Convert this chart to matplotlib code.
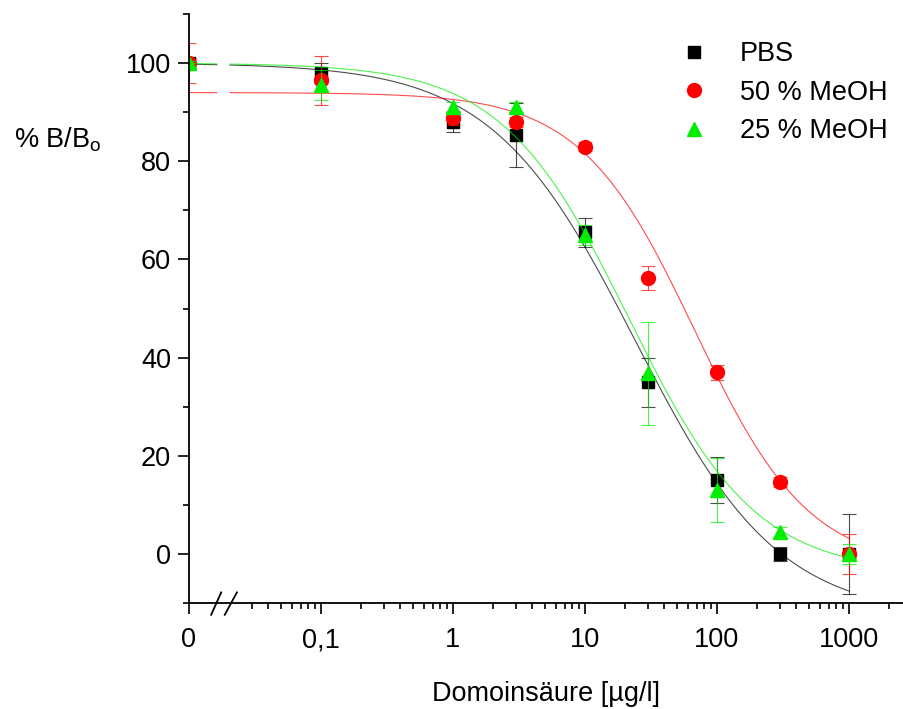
import numpy as np
import matplotlib
matplotlib.use("Agg")
import matplotlib.pyplot as plt
from matplotlib.ticker import FixedLocator, NullFormatter

plt.rcParams["font.family"] = ["Liberation Sans", "DejaVu Sans"]
plt.rcParams["mathtext.fontset"] = "custom"
plt.rcParams["mathtext.rm"] = "Liberation Sans"

# concentration 0 is drawn at the position of 0.01 on the log axis
conc = [0, 0.1, 1, 3, 10, 30, 100, 300, 1000]
zero_pos = 0.01

pbs = [100, 98, 88, 85.3, 65.5, 35, 15, 0, 0]
pbs_err = [1, 2, 2, 6.5, 3, 5, 4.7, 1.5, 8.2]
meoh50 = [100, 96.5, 88.8, 88, 83, 56.2, 37, 14.6, 0]
meoh50_err = [4, 5, 1.5, 1, 1, 2.5, 1.5, 1, 4]
meoh25 = [100, 95.5, 91, 91, 65, 36.8, 13, 4.5, 0]
meoh25_err = [0.5, 3, 1, 1, 2, 10.5, 6.5, 1, 2]

# logistic fit parameters (A1, A2, x0, p)
fit_pbs = (100, -13, 24, 0.8)
fit_50 = (94, -3, 68, 1.0)
fit_25 = (100, -4, 21.5, 0.9)

xticks = [0.01, 0.1, 1, 10, 100, 1000]
xticklabels = ["0", "0,1", "1", "10", "100", "1000"]


def logistic(x, a1, a2, x0, p):
    return a2 + (a1 - a2) / (1 + (x / x0) ** p)


fig = plt.figure(figsize=(9.04, 7.09), dpi=100)
ax = fig.add_axes([189 / 904, 106 / 709, 715 / 904, 589 / 709])

xs = np.logspace(-2, 3, 500)
gap = (xs > 0.0166) & (xs < 0.0204)
xpos = [zero_pos if c == 0 else c for c in conc]

series = [
    (pbs, pbs_err, fit_pbs, "black", "s", 8, "PBS"),
    (meoh50, meoh50_err, fit_50, "#ff0000", "o", 10, "50 % MeOH"),
    (meoh25, meoh25_err, fit_25, "#00ee00", "^", 10, "25 % MeOH"),
]
for vals, errs, fit, color, marker, ms, label in series:
    ys = logistic(xs, *fit)
    ys = np.where(gap, np.nan, ys)
    ax.plot(xs, ys, color=color, lw=0.8, alpha=0.7)
    ax.errorbar(xpos, vals, yerr=errs, fmt="none", ecolor=color, elinewidth=0.8,
                capsize=5, capthick=0.8, alpha=0.7)
    ax.plot(xpos, vals, linestyle="none", marker=marker, ms=ms, color=color,
            mec=color, label=label)

ax.set_xscale("log")
ax.set_xlim(0.01, 10 ** 3.417)
ax.set_ylim(-10, 110)

ax.xaxis.set_major_locator(FixedLocator(xticks))
ax.set_xticklabels(xticklabels)
minor = [m * 10.0 ** e for e in range(-2, 4) for m in range(2, 10)]
minor = [v for v in minor if v >= 0.03]
ax.xaxis.set_minor_locator(FixedLocator(minor))
ax.xaxis.set_minor_formatter(NullFormatter())

ax.set_yticks([0, 20, 40, 60, 80, 100])
ax.set_yticks([-10, 10, 30, 50, 70, 90, 110], minor=True)

ax.spines["top"].set_visible(False)
ax.spines["right"].set_visible(False)
for s in ("left", "bottom"):
    ax.spines[s].set_linewidth(1.3)
ax.tick_params(which="major", length=8, width=1.2, labelsize=19.5, pad=5)
ax.tick_params(axis="x", which="major", pad=9.5)
ax.tick_params(which="minor", length=4.5, width=1.2)

# axis break marks
for x0b, x1b in ((0.031, 0.045), (0.050, 0.067)):
    ax.plot([x0b, x1b], [-0.02, 0.018], transform=ax.transAxes, color="black",
            lw=1.3, clip_on=False)

ax.set_xlabel("Domoinsäure [µg/l]", fontsize=19.5, labelpad=20)
fig.text(0.015, 1 - 140 / 709, "% B/B$_\\mathregular{o}$", fontsize=19.5, va="center")

ax.legend(loc="upper left", bbox_to_anchor=(667 / 904, 1 - 41 / 709),
          bbox_transform=fig.transFigure, frameon=False, fontsize=19.5,
          numpoints=1, borderaxespad=0, borderpad=0, handletextpad=0.7,
          labelspacing=0.47)

fig.savefig("out.png", dpi=100)
